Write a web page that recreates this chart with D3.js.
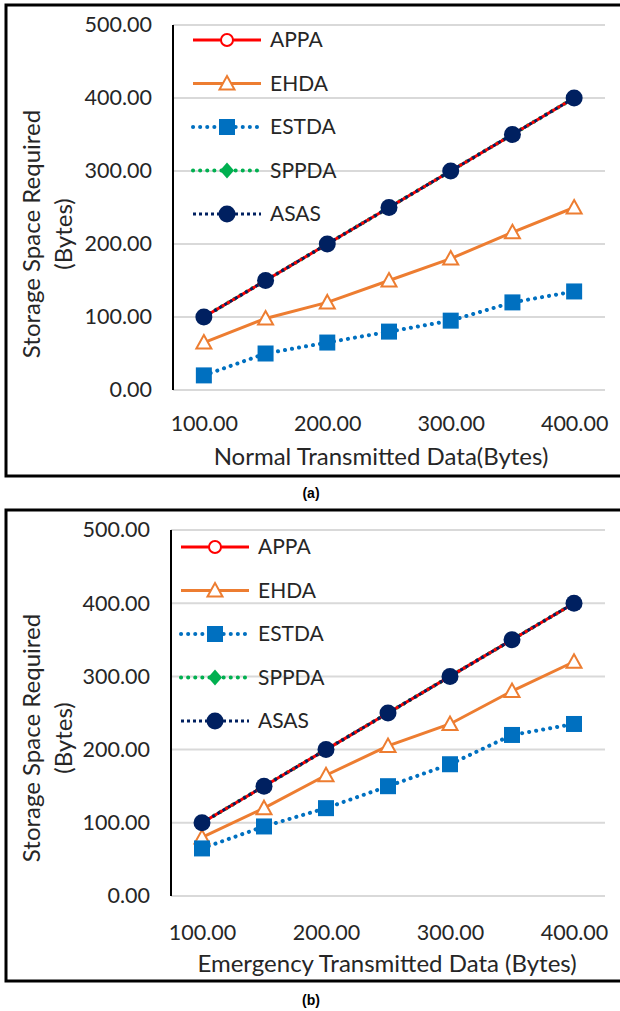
<!DOCTYPE html>
<html>
<head>
<meta charset="utf-8">
<script src="https://cdn.jsdelivr.net/npm/d3@7"></script>
<style>
  body { margin: 0; background: #fff; }
  svg text { font-family: Lato, "Open Sans", sans-serif; fill: #262626; }
</style>
</head>
<body>
<div class="graph"></div>
<script>
// values
const categories = ["100.00", "150.00", "200.00", "250.00", "300.00", "350.00", "400.00"];
const xTickLabels = ["100.00", "200.00", "300.00", "400.00"];
const yTicks = [0, 100, 200, 300, 400, 500];
const seriesNames = ["APPA", "EHDA", "ESTDA", "SPPDA", "ASAS"];

// (a) normal data
const appaA = [100, 150, 200, 250, 300, 350, 400];
const ehdaA = [65, 98, 120, 150, 180, 216, 250];
const estdaA = [20, 50, 65, 80, 95, 120, 135];
const sppdaA = [100, 150, 200, 250, 300, 350, 400];
const asasA = [100, 150, 200, 250, 300, 350, 400];

// (b) emergency data
const appaB = [100, 150, 200, 250, 300, 350, 400];
const ehdaB = [80, 120, 165, 205, 235, 280, 320];
const estdaB = [65, 95, 120, 150, 180, 220, 235];
const sppdaB = [100, 150, 200, 250, 300, 350, 400];
const asasB = [100, 150, 200, 250, 300, 350, 400];

let w = 620;
let h = 1011;

let svgvar = d3
  .select(".graph")
  .append("svg")
  .attr("width", w)
  .attr("height", h);

// look of each series, excel style
let styles = {
  APPA: { color: "#FF0000", dash: null, cap: "butt", width: 3, marker: "circleOpen" },
  EHDA: { color: "#ED7D31", dash: null, cap: "butt", width: 3, marker: "triangle" },
  ESTDA: { color: "#0070C0", dash: "0.1 7", cap: "round", width: 4, marker: "square" },
  SPPDA: { color: "#00B050", dash: "0.1 7", cap: "round", width: 4, marker: "diamond" },
  ASAS: { color: "#002060", dash: "3 3", cap: "butt", width: 3, marker: "circle" }
};
// SPPDA drawn first so it sits under the others
let drawOrder = ["SPPDA", "APPA", "EHDA", "ESTDA", "ASAS"];

let panels = [
  {
    top: 5, bottom: 476, yRange: [390, 25], xRange: [173, 605],
    tickPad: 33, titleX: 381, titleY: 457, yTitleY: 234,
    legendX: 193, legendY: 40, caption: "(a)", captionY: 493,
    xTitle: "Normal Transmitted Data(Bytes)",
    data: { APPA: appaA, EHDA: ehdaA, ESTDA: estdaA, SPPDA: sppdaA, ASAS: asasA }
  },
  {
    top: 510, bottom: 981, yRange: [896, 530], xRange: [171, 605],
    tickPad: 36, titleX: 387, titleY: 964, yTitleY: 738,
    legendX: 181, legendY: 547, caption: "(b)", captionY: 1000,
    xTitle: "Emergency Transmitted Data (Bytes)",
    data: { APPA: appaB, EHDA: ehdaB, ESTDA: estdaB, SPPDA: sppdaB, ASAS: asasB }
  }
];

function drawMarker(g, type, color, x, y) {
  if (type == "circle") {
    g.append("circle").attr("cx", x).attr("cy", y).attr("r", 8.5)
      .attr("fill", color);
  } else if (type == "circleOpen") {
    g.append("circle").attr("cx", x).attr("cy", y).attr("r", 6)
      .attr("fill", "#fff").attr("stroke", color).attr("stroke-width", 2);
  } else if (type == "triangle") {
    g.append("path")
      .attr("d", "M" + x + "," + (y - 7.5) + "L" + (x + 7.5) + "," + (y + 6) + "L" + (x - 7.5) + "," + (y + 6) + "Z")
      .attr("fill", "#fff").attr("stroke", color).attr("stroke-width", 2);
  } else if (type == "square") {
    g.append("rect").attr("x", x - 8).attr("y", y - 8).attr("width", 16).attr("height", 16)
      .attr("fill", color);
  } else {
    g.append("path")
      .attr("d", "M" + x + "," + (y - 8) + "L" + (x + 7) + "," + y + "L" + x + "," + (y + 8) + "L" + (x - 7) + "," + y + "Z")
      .attr("fill", color);
  }
}

panels.forEach(function (p) {
  let g = svgvar.append("g");

  // frame around the panel, right edge runs off the page
  g.append("rect")
    .attr("x", 6)
    .attr("y", p.top)
    .attr("width", 700)
    .attr("height", p.bottom - p.top)
    .attr("fill", "none")
    .attr("stroke", "#000")
    .attr("stroke-width", 3);

  let xScale = d3.scalePoint().domain(categories).range(p.xRange).padding(0.5);
  let yScale = d3.scaleLinear().domain([0, 500]).range(p.yRange);

  // gridlines
  g.selectAll(".grid")
    .data(yTicks)
    .enter()
    .append("line")
    .attr("x1", p.xRange[0])
    .attr("x2", p.xRange[1])
    .attr("y1", (d) => yScale(d))
    .attr("y2", (d) => yScale(d))
    .attr("stroke", "#d9d9d9")
    .attr("stroke-width", 2);

  // y axis
  let yAxis = d3.axisLeft(yScale).tickValues(yTicks).tickSize(0).tickPadding(21)
    .tickFormat(d3.format(".2f"));
  let yg = g.append("g")
    .attr("transform", "translate(" + p.xRange[0] + ",0)")
    .call(yAxis);
  yg.select(".domain").remove();
  yg.selectAll("text").attr("font-size", 21.5).attr("font-family", "Lato").attr("fill", "#262626");
  g.append("line")
    .attr("x1", p.xRange[0]).attr("x2", p.xRange[0])
    .attr("y1", yScale(500)).attr("y2", yScale(0))
    .attr("stroke", "#000").attr("stroke-width", 2);

  // x axis, labels every other category
  let xAxis = d3.axisBottom(xScale).tickValues(xTickLabels).tickSize(0).tickPadding(p.tickPad);
  let xg = g.append("g")
    .attr("transform", "translate(0," + yScale(0) + ")")
    .call(xAxis);
  xg.select(".domain").remove();
  xg.selectAll("text").attr("font-size", 21.5).attr("font-family", "Lato").attr("fill", "#262626")
    .attr("dy", "0.35em");

  // titles
  g.append("text")
    .attr("x", p.titleX)
    .attr("y", p.titleY)
    .attr("dy", "0.35em")
    .attr("text-anchor", "middle")
    .attr("font-size", 24)
    .text(p.xTitle);
  g.append("text")
    .attr("transform", "translate(32," + p.yTitleY + ") rotate(-90)")
    .attr("dy", "0.35em")
    .attr("text-anchor", "middle")
    .attr("font-size", 24)
    .text("Storage Space Required");
  g.append("text")
    .attr("transform", "translate(64," + p.yTitleY + ") rotate(-90)")
    .attr("dy", "0.35em")
    .attr("text-anchor", "middle")
    .attr("font-size", 24)
    .text("(Bytes)");

  // series lines then markers
  let line = d3.line()
    .x((d, i) => xScale(categories[i]))
    .y((d) => yScale(d));

  drawOrder.forEach(function (name) {
    let s = styles[name];
    g.append("path")
      .datum(p.data[name])
      .attr("d", line)
      .attr("fill", "none")
      .attr("stroke", s.color)
      .attr("stroke-width", s.width)
      .attr("stroke-linecap", s.cap)
      .attr("stroke-dasharray", s.dash);
    let mg = g.append("g");
    p.data[name].forEach(function (v, i) {
      drawMarker(mg, s.marker, s.color, xScale(categories[i]), yScale(v));
    });
  });

  // legend
  seriesNames.forEach(function (name, i) {
    let s = styles[name];
    let ly = p.legendY + i * 43.5;
    g.append("line")
      .attr("x1", p.legendX).attr("x2", p.legendX + 68)
      .attr("y1", ly).attr("y2", ly)
      .attr("stroke", s.color)
      .attr("stroke-width", s.width)
      .attr("stroke-linecap", s.cap)
      .attr("stroke-dasharray", s.dash);
    drawMarker(g, s.marker, s.color, p.legendX + 34, ly);
    g.append("text")
      .attr("x", p.legendX + 77)
      .attr("y", ly)
      .attr("dy", "0.35em")
      .attr("font-size", 21)
      .text(name);
  });

  // caption
  svgvar.append("text")
    .attr("x", 311)
    .attr("y", p.captionY)
    .attr("dy", "0.35em")
    .attr("text-anchor", "middle")
    .attr("font-weight", "bold")
    .attr("font-size", 14)
    .style("font-family", "Liberation Sans, Arial")
    .style("fill", "#000")
    .text(p.caption);
});
</script>
</body>
</html>
